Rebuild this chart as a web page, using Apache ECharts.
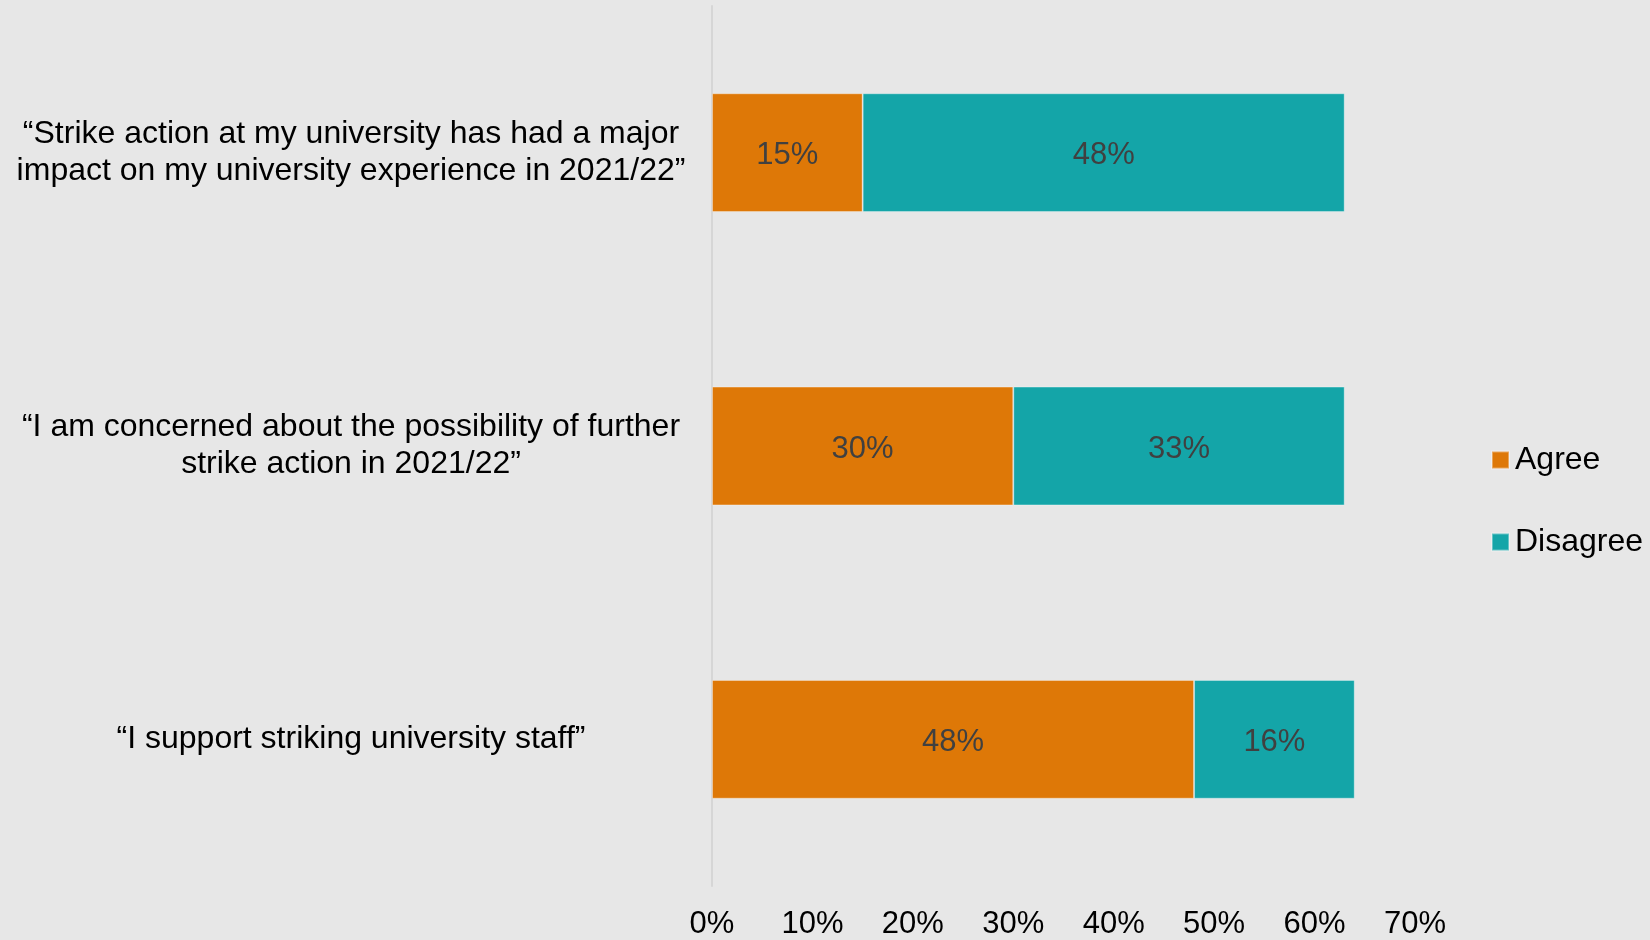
<!DOCTYPE html>
<html>
<head>
<meta charset="utf-8">
<script src="https://cdn.jsdelivr.net/npm/echarts@6/dist/echarts.min.js"></script>
<style>
  html, body { margin: 0; padding: 0; background: #e7e7e7; }
  #chart { width: 1650px; height: 940px; }
</style>
</head>
<body>
<div id="chart"></div>
<script>
// Survey statements (top to bottom) and response shares in percent
var categories = [
  '\u201cStrike action at my university has had a major\nimpact on my university experience in 2021/22\u201d',
  '\u201cI am concerned about the possibility of further\nstrike action in 2021/22\u201d',
  '\u201cI support striking university staff\u201d'
];
var agreeValues = [15, 30, 48];
var disagreeValues = [48, 33, 16];
var xTicks = [0, 10, 20, 30, 40, 50, 60, 70];

var FONT = '"Liberation Sans", Arial, sans-serif';

var chart = echarts.init(document.getElementById('chart'));

function barLabel() {
  return {
    show: true,
    position: 'inside',
    offset: [0, 3],
    formatter: function (p) { return p.value + '%'; },
    color: '#404040',
    fontSize: 31,
    fontFamily: FONT
  };
}

chart.setOption({
  backgroundColor: '#e7e7e7',
  animation: false,
  grid: { left: 712, right: 235, top: 6, bottom: 44, containLabel: false },
  legend: {
    orient: 'vertical',
    left: 1486,
    top: 439,
    itemWidth: 17,
    itemHeight: 17,
    itemGap: 50,
    icon: 'rect',
    textStyle: { fontSize: 32, fontFamily: FONT, color: '#000000', padding: [0, 0, 0, 1] },
    data: ['Agree', 'Disagree']
  },
  xAxis: {
    type: 'value',
    min: 0,
    max: xTicks[xTicks.length - 1],
    interval: 10,
    axisLine: { show: false },
    axisTick: { show: false },
    splitLine: { show: false },
    axisLabel: {
      formatter: '{value}%',
      fontSize: 31,
      fontFamily: FONT,
      color: '#000000',
      margin: 23
    }
  },
  yAxis: {
    type: 'category',
    inverse: true,
    data: categories,
    axisLine: { show: true, lineStyle: { color: '#d6d6d6', width: 2 } },
    axisTick: { show: false },
    splitLine: { show: false },
    axisLabel: {
      fontSize: 32,
      lineHeight: 37,
      fontFamily: FONT,
      color: '#000000',
      align: 'center',
      padding: [12, 0, 0, 0],
      margin: 361
    }
  },
  series: [
    {
      name: 'Agree',
      type: 'bar',
      stack: 'total',
      barWidth: '40.5%',
      data: agreeValues,
      itemStyle: { color: '#de7807', borderColor: 'rgba(255,255,255,0.35)', borderWidth: 1 },
      label: barLabel()
    },
    {
      name: 'Disagree',
      type: 'bar',
      stack: 'total',
      barWidth: '40.5%',
      data: disagreeValues,
      itemStyle: { color: '#14a5a8', borderColor: 'rgba(255,255,255,0.35)', borderWidth: 1 },
      label: barLabel()
    }
  ]
});
</script>
</body>
</html>
